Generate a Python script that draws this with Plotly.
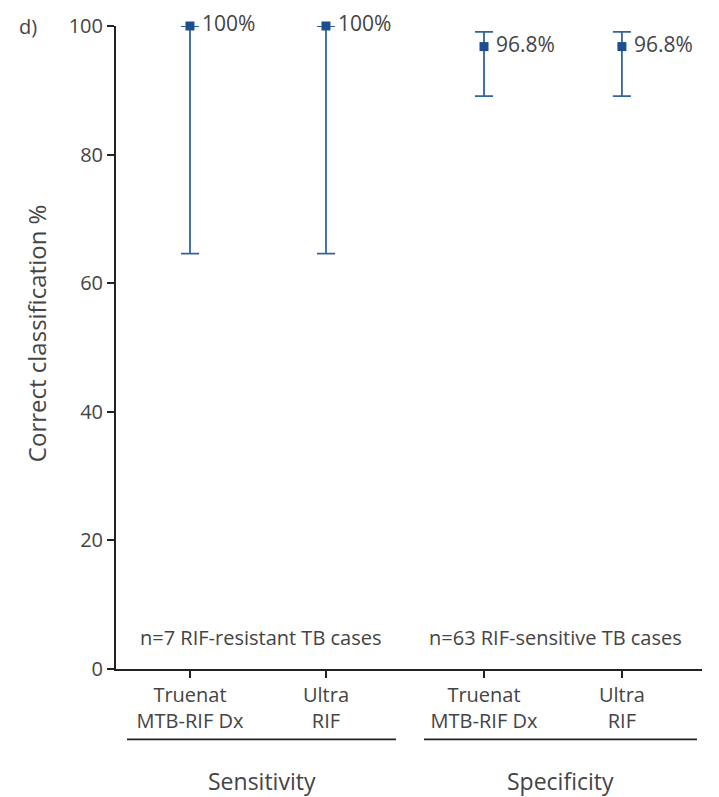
import plotly.graph_objects as go

# Data
categories = ["Truenat<br>MTB-RIF Dx", "Ultra<br>RIF", "Truenat<br>MTB-RIF Dx", "Ultra<br>RIF"]
x_pos = [1.0, 2.0, 3.162, 4.176]
values = [100.0, 100.0, 96.8, 96.8]
ci_lower = [64.6, 64.6, 89.1, 89.1]
ci_upper = [100.0, 100.0, 99.1, 99.1]
value_labels = ["100%", "100%", "96.8%", "96.8%"]
group_names = ["Sensitivity", "Specificity"]
group_notes = ["n=7 RIF-resistant TB cases", "n=63 RIF-sensitive TB cases"]
y_ticks = [0, 20, 40, 60, 80, 100]

FONT = "Open Sans"
TXT = "#444444"
BLUE = "#1d4f8f"
ERR = "#33649d"

L, R, T, B = 116, 702, 20, 669
W, H = R - L, B - T


def px(xp):
    return (xp - L) / W


def py(yp):
    return (B - yp) / H


err_plus = [u - v for u, v in zip(ci_upper, values)]
err_minus = [v - l for v, l in zip(values, ci_lower)]

fig = go.Figure()
fig.add_trace(go.Scatter(
    x=x_pos, y=values, mode="markers+text",
    marker=dict(symbol="square", size=9, color=BLUE),
    error_y=dict(type="data", symmetric=False, array=err_plus, arrayminus=err_minus,
                 color=ERR, thickness=1.8, width=9),
    text=[" " + t for t in value_labels], textposition="middle right",
    textfont=dict(family=FONT, size=21, color=TXT),
    cliponaxis=False, showlegend=False,
))

fig.update_layout(
    width=719, height=797,
    margin=dict(l=L, r=719 - R, t=T, b=797 - B),
    plot_bgcolor="white", paper_bgcolor="white",
    font=dict(family=FONT, color=TXT),
    xaxis=dict(range=[0.456, 4.765], tickvals=x_pos, ticktext=categories,
               showline=True, linecolor="#222", linewidth=2, ticks="outside",
               ticklen=7, tickwidth=1.5, tickcolor="#222", showgrid=False, zeroline=False,
               tickfont=dict(family=FONT, size=20, color=TXT)),
    yaxis=dict(range=[0, 100], tickvals=y_ticks, showline=True, linecolor="#222",
               linewidth=2, ticks="outside", ticklen=7, tickwidth=1.5, tickcolor="#222",
               showgrid=False, zeroline=False,
               tickfont=dict(family=FONT, size=20, color=TXT)),
)

# y-axis title
fig.add_annotation(x=px(36), y=py(330), xref="paper", yref="paper",
                   text="Correct classification %", textangle=-90, showarrow=False,
                   font=dict(family=FONT, size=24, color=TXT), xanchor="center", yanchor="middle")

# group notes
note_px = [260, 555]
for xp, t in zip(note_px, group_notes):
    fig.add_annotation(x=px(xp), y=py(637), xref="paper", yref="paper", text=t, showarrow=False,
                       font=dict(family=FONT, size=20, color=TXT), xanchor="center",
                       yanchor="middle")

# group bracket lines and labels
group_lines = [(127, 396), (424, 697)]
for (x0, x1), name in zip(group_lines, group_names):
    fig.add_shape(type="line", xref="paper", yref="paper", x0=px(x0), x1=px(x1),
                  y0=py(740), y1=py(740), line=dict(color="#222", width=1.8))
    fig.add_annotation(x=px((x0 + x1) / 2), y=py(782), xref="paper", yref="paper", text=name,
                       showarrow=False, font=dict(family=FONT, size=23, color=TXT),
                       xanchor="center", yanchor="middle")

fig.add_annotation(x=px(17), y=py(20), xref="paper", yref="paper", text="d)", showarrow=False,
                   font=dict(family=FONT, size=20, color=TXT), xanchor="left", yanchor="middle")

fig.write_html("out.html")
